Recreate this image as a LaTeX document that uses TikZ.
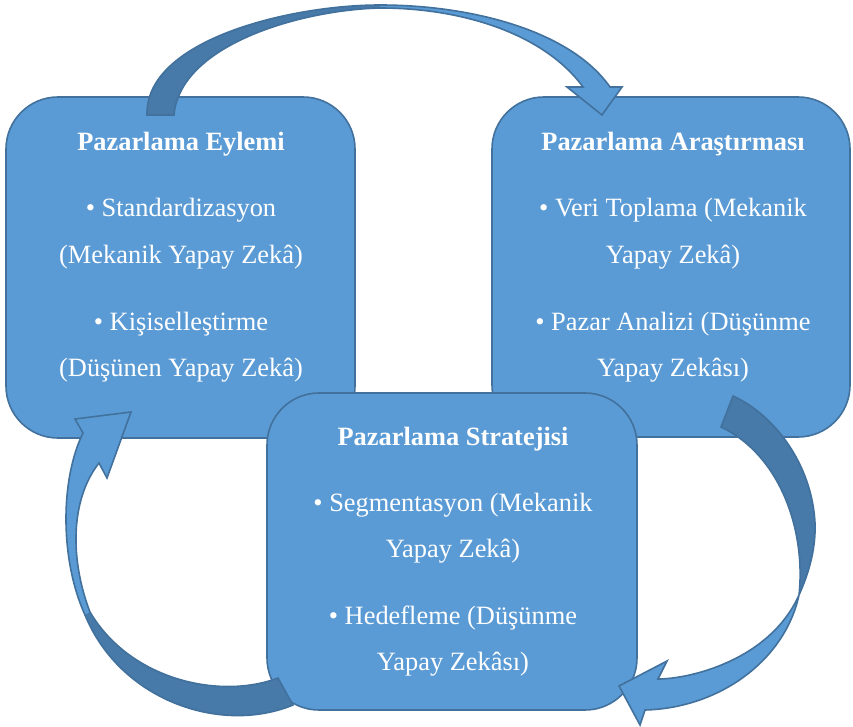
\documentclass[tikz,border=0pt]{standalone}
\usepackage{fontspec}
\setmainfont{Liberation Serif}
\definecolor{boxfill}{HTML}{5B9BD5}
\definecolor{boxline}{HTML}{41719C}
\definecolor{darkarr}{HTML}{4779A9}
\tikzset{
  box/.style={draw=boxline, fill=boxfill, line width=1.6pt, rounded corners=52pt, inner sep=0pt},
  txt/.style={text=white, anchor=base, inner sep=0pt, font=\fontsize{26.4}{30}\selectfont},
  ttl/.style={text=white, anchor=base, inner sep=0pt, font=\fontsize{26.4}{30}\selectfont\bfseries},
  arrline/.style={draw=boxline, line width=1.6pt, line join=miter},
}
\begin{document}
\begin{tikzpicture}[x=1pt,y=-1pt]
\useasboundingbox (0,0) rectangle (853,727);
% boxes
\node[box, minimum width=349pt, minimum height=341pt] (eylem) at (180.5,267.5) {};
\node[box, minimum width=358pt, minimum height=340pt] (arast) at (671,267) {};
\node[box, minimum width=370pt, minimum height=317pt] (strat) at (452,551.5) {};
% texts box 1
\node[ttl] (e0) at (181,151) {Pazarlama Eylemi};
\node[txt] (e1) at (181,217) {• Standardizasyon};
\node[txt] (e2) at (181,263) {(Mekanik Yapay Zekâ)};
\node[txt] (e3) at (181,330) {• Kişiselleştirme};
\node[txt] (e4) at (181,376) {(Düşünen Yapay Zekâ)};
% texts box 2
\node[ttl] (a0) at (673,151) {Pazarlama Araştırması};
\node[txt] (a1) at (673,217) {• Veri Toplama (Mekanik};
\node[txt] (a2) at (673,263) {Yapay Zekâ)};
\node[txt] (a3) at (673,330) {• Pazar Analizi (Düşünme};
\node[txt] (a4) at (673,376) {Yapay Zekâsı)};
% texts box 3
\node[ttl] (s0) at (453,445) {Pazarlama Stratejisi};
\node[txt] (s1) at (453,511) {• Segmentasyon (Mekanik};
\node[txt] (s2) at (453,557) {Yapay Zekâ)};
\node[txt] (s3) at (453,624) {• Hedefleme (Düşünme};
\node[txt] (s4) at (453,670) {Yapay Zekâsı)};
% top arrow
\def\arrTop{(147,115) .. controls (145,40) and (290,5) .. (380,5)
  .. controls (470,5) and (570,30) .. (610,87) -- (622,87) -- (602,115) -- (567,87) -- (583,87)
  .. controls (545,35) and (465,8) .. (380,8) .. controls (300,10) and (180,45) .. (174,115) -- cycle}
\fill[boxfill] \arrTop;
\fill[darkarr] (147,115) .. controls (145,40) and (290,5) .. (380,5) -- (380,8)
  .. controls (300,10) and (180,45) .. (174,115) -- cycle;
\draw[arrline] \arrTop;
% right arrow
\def\arrRight{(721,427) -- (733,396) .. controls (775,415) and (812,465) .. (815,523)
  .. controls (816,550) and (808,575) .. (799,595)
  .. controls (785,660) and (720,708) .. (645,710) -- (640,725) -- (619,686) -- (667,661) -- (658,679)
  .. controls (690,679) and (770,660) .. (799,595)
  .. controls (806,530) and (780,455) .. (721,427) -- cycle}
\fill[boxfill] \arrRight;
\fill[darkarr] (721,427) -- (733,396) .. controls (775,415) and (812,465) .. (815,523)
  .. controls (816,550) and (808,575) .. (799,595)
  .. controls (806,530) and (780,455) .. (721,427) -- cycle;
\draw[arrline] \arrRight;
% left arrow
\def\arrLeft{(278,678) -- (293,705) .. controls (220,735) and (120,700) .. (85,615)
  .. controls (60,560) and (60,480) .. (83,433) -- (75,419) -- (131,412) -- (107,478) -- (99,463)
  .. controls (70,500) and (70,560) .. (90,612)
  .. controls (130,680) and (220,700) .. (278,678) -- cycle}
\fill[boxfill] \arrLeft;
\fill[darkarr] (278,678) -- (293,705) .. controls (220,735) and (120,700) .. (85,615)
  -- (90,612) .. controls (130,680) and (220,700) .. (278,678) -- cycle;
\draw[arrline] \arrLeft;
\end{tikzpicture}
\end{document}
